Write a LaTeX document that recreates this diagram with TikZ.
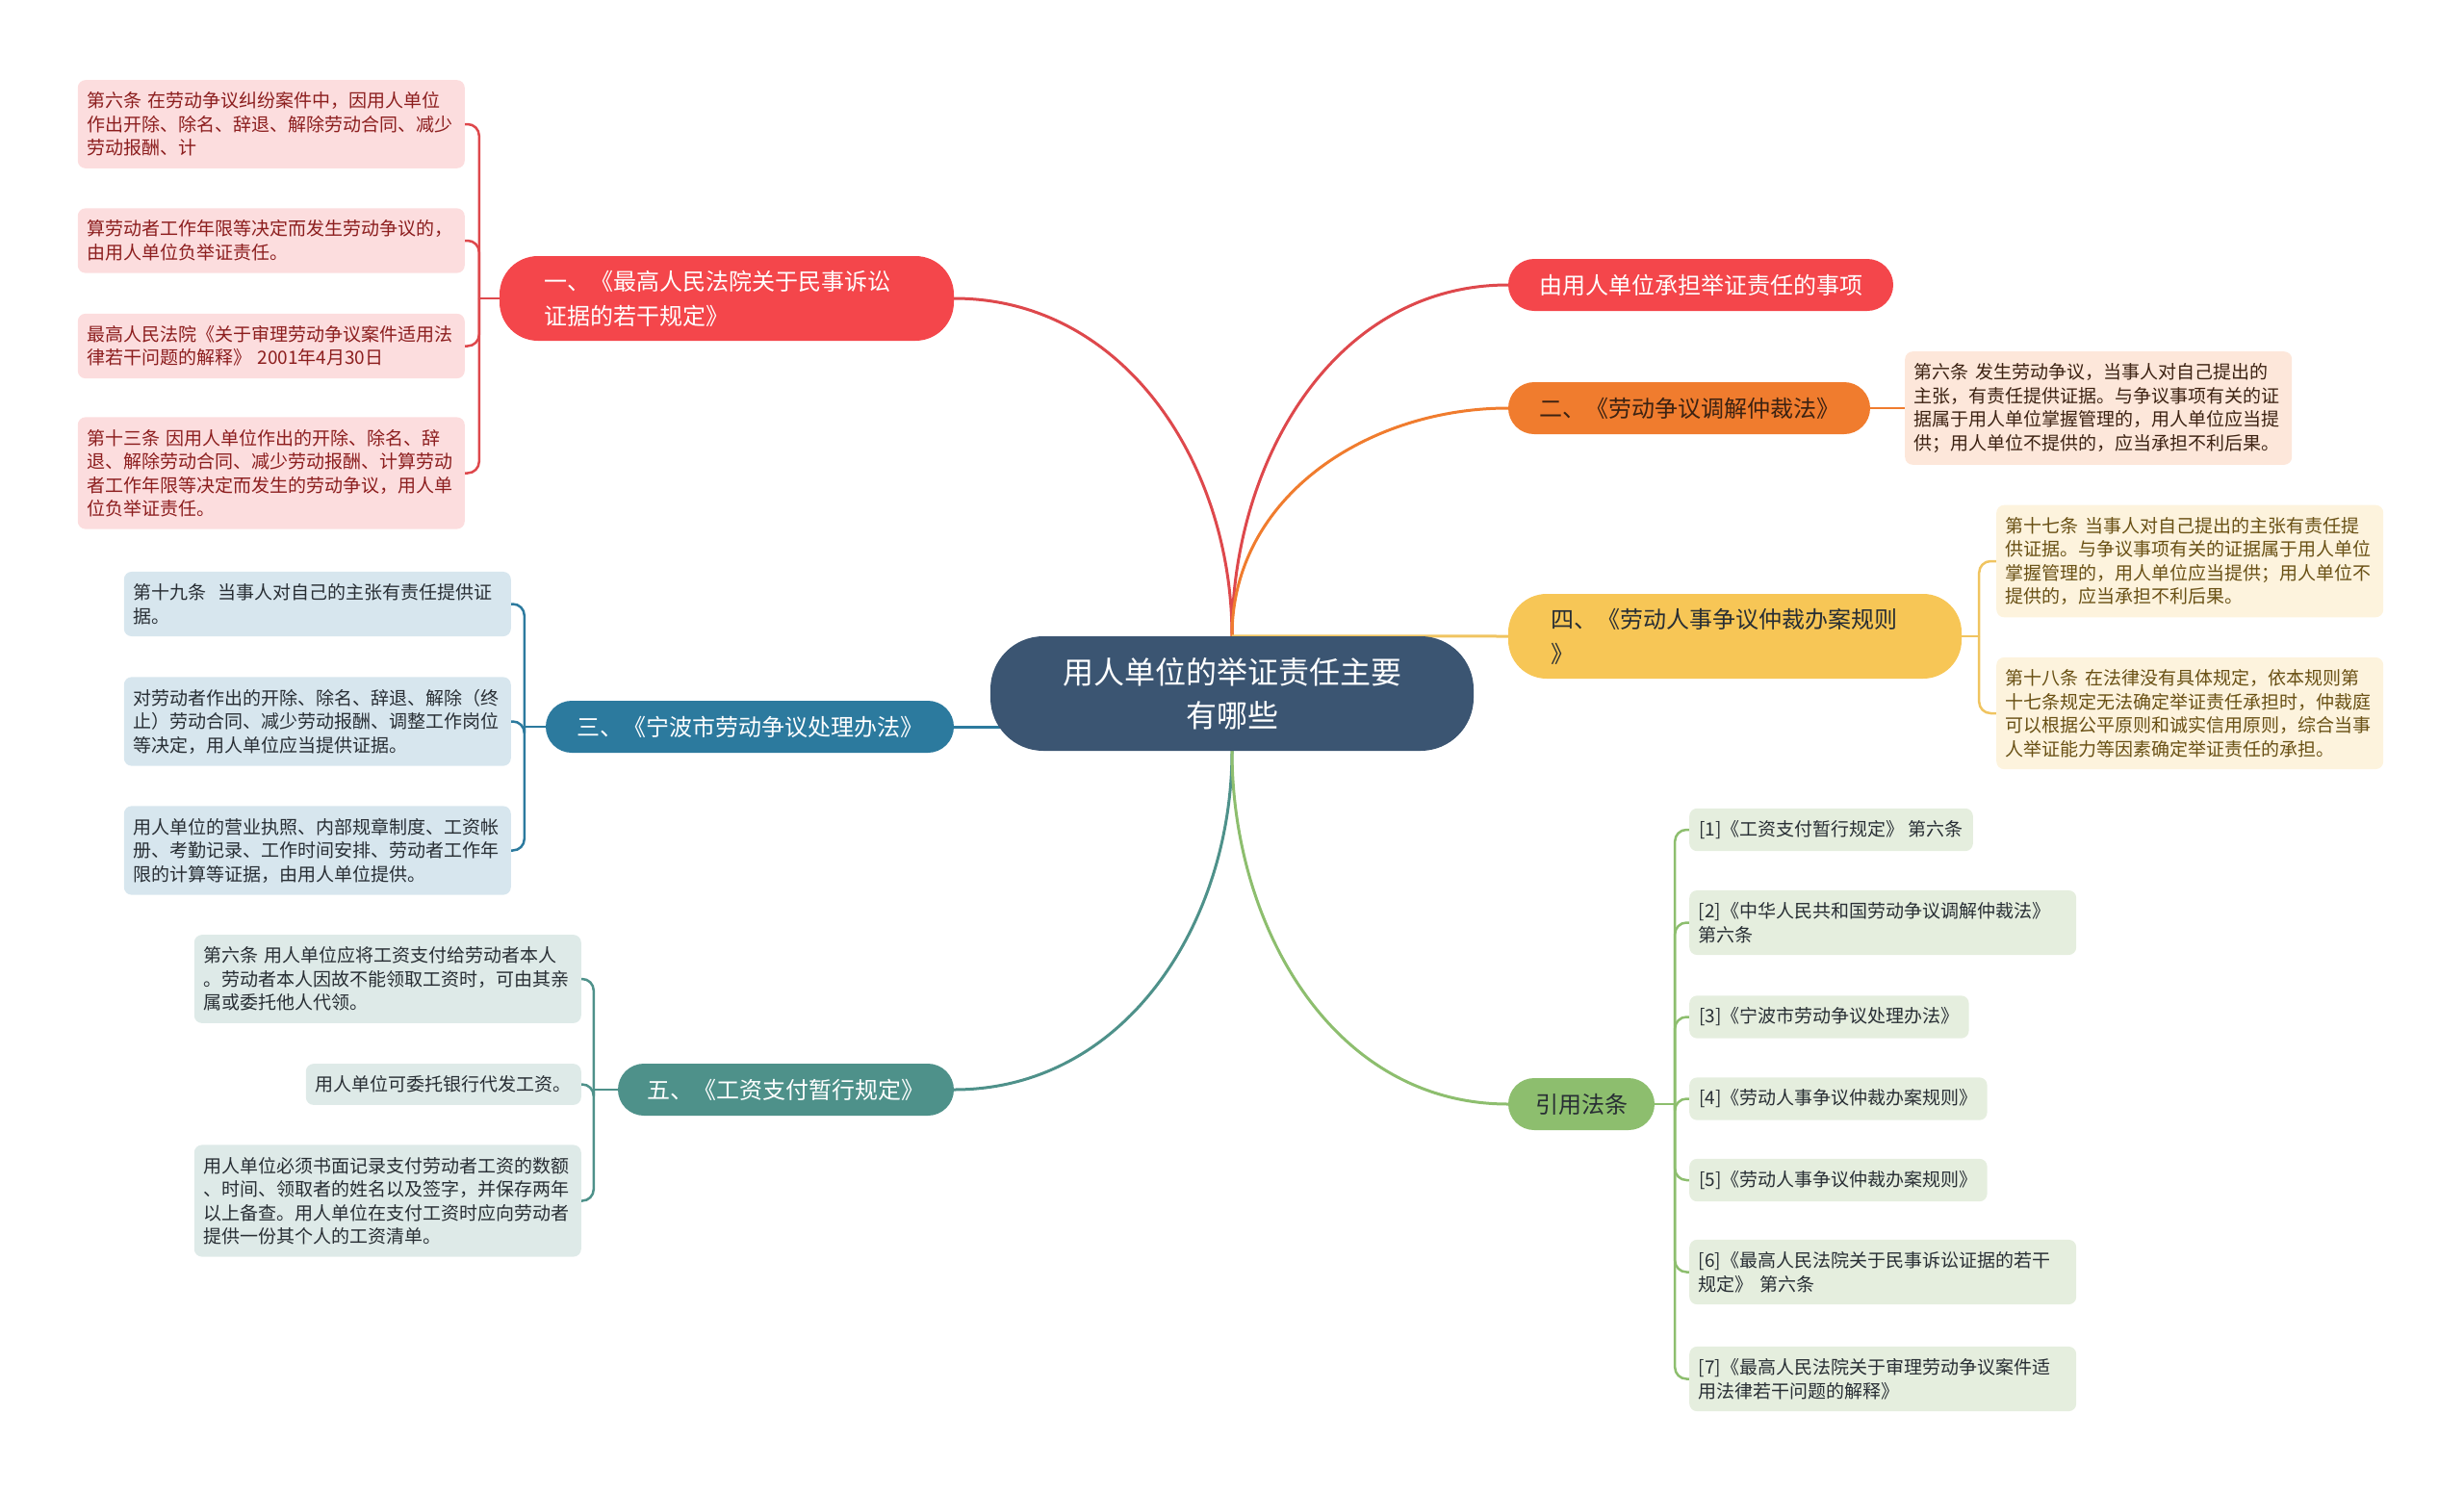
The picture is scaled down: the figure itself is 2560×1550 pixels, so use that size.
\documentclass[tikz,border=0pt]{standalone}
\usepackage{fontspec}
\setmainfont{Noto Sans CJK SC}
\usetikzlibrary{backgrounds}

% colours
\definecolor{rootblue}{RGB}{59,85,114}
\definecolor{redmid}{RGB}{244,70,75}
\definecolor{redline}{RGB}{222,72,76}
\definecolor{redpale}{RGB}{252,221,222}
\definecolor{reddark}{RGB}{140,30,30}
\definecolor{orangemid}{RGB}{240,124,46}
\definecolor{orangepale}{RGB}{253,231,218}
\definecolor{orangedark}{RGB}{60,34,18}
\definecolor{yellowmid}{RGB}{247,198,86}
\definecolor{yellowline}{RGB}{240,196,96}
\definecolor{yellowpale}{RGB}{253,243,221}
\definecolor{yellowdark}{RGB}{105,80,20}
\definecolor{bluemid}{RGB}{44,122,158}
\definecolor{bluepale}{RGB}{215,230,238}
\definecolor{tealmid}{RGB}{78,145,138}
\definecolor{tealpale}{RGB}{222,234,232}
\definecolor{greenmid}{RGB}{141,190,110}
\definecolor{greenpale}{RGB}{229,238,222}
\definecolor{inkdark}{RGB}{40,46,52}

\tikzset{
  root/.style={fill=rootblue, text=white, rounded corners=55pt,
    minimum width=502pt, minimum height=119pt, align=center,
    font=\fontsize{32}{45}\selectfont},
  topic/.style={rounded corners=27pt, minimum height=54pt, inner sep=0pt,
    font=\fontsize{24}{36}\selectfont},
  bigtopic/.style={rounded corners=40pt, minimum height=88pt, inner ysep=0pt,
    align=left, font=\fontsize{24}{36}\selectfont},
  leaf/.style={rounded corners=8pt, inner xsep=10pt, inner ysep=12.5pt,
    align=left, font=\fontsize{19}{24.5}\selectfont},
  wide/.style={text width=383pt, inner xsep=9.5pt},
  redleaf/.style={leaf, fill=redpale, text=reddark},
  blueleaf/.style={leaf, fill=bluepale, text=inkdark},
  tealleaf/.style={leaf, fill=tealpale, text=inkdark},
  orangeleaf/.style={leaf, fill=orangepale, text=orangedark},
  yellowleaf/.style={leaf, fill=yellowpale, text=yellowdark},
  greenleaf/.style={leaf, fill=greenpale, text=inkdark},
  link/.style={draw=#1, line width=3pt},
  twig/.style={draw=#1, line width=2.5pt, rounded corners=12pt},
}

\begin{document}
\begin{tikzpicture}[x=1pt,y=-1pt]
\useasboundingbox (0,0) rectangle (2560,1550);

% centre
\node[root] (root) at (1280,720.5) {用人单位的举证责任主要\\有哪些};

% topics, left side
\node[bigtopic, fill=redmid, text=white, text width=380pt, inner xsep=46pt] (t1) at (755,310)
  {一、《最高人民法院关于民事诉讼\\证据的若干规定》};
\node[topic, fill=bluemid, text=white, minimum width=424pt] (t3) at (779,755)
  {三、《宁波市劳动争议处理办法》};
\node[topic, fill=tealmid, text=white, minimum width=349pt] (t5) at (816.5,1132)
  {五、《工资支付暂行规定》};

% topics, right side
\node[topic, fill=redmid, text=white, minimum width=400pt] (t2) at (1767,296)
  {由用人单位承担举证责任的事项};
\node[topic, fill=orangemid, text=orangedark, minimum width=376pt] (t2b) at (1755,424)
  {二、《劳动争议调解仲裁法》};
\node[bigtopic, fill=yellowmid, text=inkdark, text width=383pt, inner xsep=44pt] (t4) at (1802.5,661)
  {四、《劳动人事争议仲裁办案规则\\》};
\node[topic, fill=greenmid, text=inkdark, minimum width=152pt] (t6) at (1643,1147)
  {引用法条};

% leaves of t1
\node[redleaf, wide, anchor=east] (l1a) at (483,129)
  {第六条 在劳动争议纠纷案件中，因用人单位\\作出开除、除名、辞退、解除劳动合同、减少\\劳动报酬、计};
\node[redleaf, wide, anchor=east] (l1b) at (483,250)
  {算劳动者工作年限等决定而发生劳动争议的，\\由用人单位负举证责任。};
\node[redleaf, wide, anchor=east] (l1c) at (483,359.5)
  {最高人民法院《关于审理劳动争议案件适用法\\律若干问题的解释》 2001年4月30日};
\node[redleaf, wide, anchor=east] (l1d) at (483,491.5)
  {第十三条 因用人单位作出的开除、除名、辞\\退、解除劳动合同、减少劳动报酬、计算劳动\\者工作年限等决定而发生的劳动争议，用人单\\位负举证责任。};

% leaves of t3
\node[blueleaf, wide, anchor=east] (l3a) at (531,627.5)
  {第十九条\ \ 当事人对自己的主张有责任提供证\\据。};
\node[blueleaf, wide, anchor=east] (l3b) at (531,749.5)
  {对劳动者作出的开除、除名、辞退、解除（终\\止）劳动合同、减少劳动报酬、调整工作岗位\\等决定，用人单位应当提供证据。};
\node[blueleaf, wide, anchor=east] (l3c) at (531,883.5)
  {用人单位的营业执照、内部规章制度、工资帐\\册、考勤记录、工作时间安排、劳动者工作年\\限的计算等证据，由用人单位提供。};

% leaves of t5
\node[tealleaf, wide, anchor=east] (l5a) at (604,1017)
  {第六条 用人单位应将工资支付给劳动者本人\\。劳动者本人因故不能领取工资时，可由其亲\\属或委托他人代领。};
\node[tealleaf, anchor=east] (l5b) at (604,1126.5)
  {用人单位可委托银行代发工资。};
\node[tealleaf, wide, anchor=east] (l5c) at (604,1247.5)
  {用人单位必须书面记录支付劳动者工资的数额\\、时间、领取者的姓名以及签字，并保存两年\\以上备查。用人单位在支付工资时应向劳动者\\提供一份其个人的工资清单。};

% leaf of t2b
\node[orangeleaf, wide, anchor=west] (l2) at (1979,424)
  {第六条 发生劳动争议，当事人对自己提出的\\主张，有责任提供证据。与争议事项有关的证\\据属于用人单位掌握管理的，用人单位应当提\\供；用人单位不提供的，应当承担不利后果。};

% leaves of t4
\node[yellowleaf, wide, anchor=west] (l4a) at (2074,583)
  {第十七条 当事人对自己提出的主张有责任提\\供证据。与争议事项有关的证据属于用人单位\\掌握管理的，用人单位应当提供；用人单位不\\提供的，应当承担不利后果。};
\node[yellowleaf, wide, anchor=west] (l4b) at (2074,741)
  {第十八条 在法律没有具体规定，依本规则第\\十七条规定无法确定举证责任承担时，仲裁庭\\可以根据公平原则和诚实信用原则，综合当事\\人举证能力等因素确定举证责任的承担。};

% leaves of t6
\node[greenleaf, anchor=west] (r1) at (1755,862) {[1]《工资支付暂行规定》 第六条};
\node[greenleaf, wide, anchor=west] (r2) at (1755,958.5) {[2]《中华人民共和国劳动争议调解仲裁法》\\第六条};
\node[greenleaf, anchor=west] (r3) at (1755,1056.5) {[3]《宁波市劳动争议处理办法》};
\node[greenleaf, anchor=west] (r4) at (1755,1141.5) {[4]《劳动人事争议仲裁办案规则》};
\node[greenleaf, anchor=west] (r5) at (1755,1226) {[5]《劳动人事争议仲裁办案规则》};
\node[greenleaf, wide, anchor=west] (r6) at (1755,1321.5) {[6]《最高人民法院关于民事诉讼证据的若干\\规定》 第六条};
\node[greenleaf, wide, anchor=west] (r7) at (1755,1432.5) {[7]《最高人民法院关于审理劳动争议案件适\\用法律若干问题的解释》};

\begin{scope}[on background layer]
  % trunk
  \draw[link=redline] (root.north) to[out=90,in=0] (t1.east);
  \draw[link=redline] (root.north) to[out=90,in=180] (t2.west);
  \draw[link=orangemid] (root.north) to[out=90,in=180] (t2b.west);
  \draw[link=yellowline] (root.north) -- (t4.west);
  \draw[link=bluemid] (t3.east) -- (t3.east -| root.center);
  \draw[link=tealmid] (root.south) to[out=-90,in=0] (t5.east);
  \draw[link=greenmid] (root.south) to[out=-90,in=180] (t6.west);

  % twigs
  \draw[twig=redline] (t1.west) -- ++(-21,0) coordinate (b1);
  \foreach \n in {l1a,l1b,l1c,l1d}
    \draw[twig=redline] (b1) |- (\n.east);
  \draw[twig=bluemid] (t3.west) -- ++(-22,0) coordinate (b3);
  \foreach \n in {l3a,l3b,l3c}
    \draw[twig=bluemid] (b3) |- (\n.east);
  \draw[twig=tealmid] (t5.west) -- ++(-25,0) coordinate (b5);
  \foreach \n in {l5a,l5b,l5c}
    \draw[twig=tealmid] (b5) |- (\n.east);
  \draw[twig=orangemid] (t2b.east) -- (l2.west);
  \draw[twig=yellowline] (t4.east) -- ++(18,0) coordinate (b4);
  \foreach \n in {l4a,l4b}
    \draw[twig=yellowline] (b4) |- (\n.west);
  \draw[twig=greenmid] (t6.east) -- ++(21,0) coordinate (b6);
  \foreach \n in {r1,r2,r3,r4,r5,r6,r7}
    \draw[twig=greenmid] (b6) |- (\n.west);
\end{scope}
\end{tikzpicture}
\end{document}
